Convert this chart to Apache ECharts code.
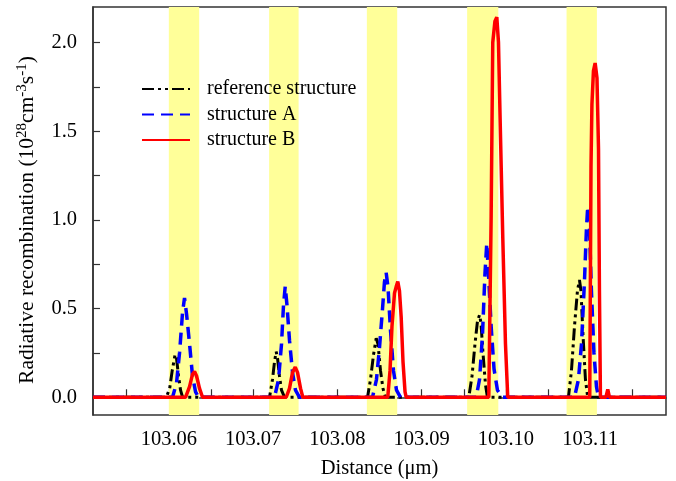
<!DOCTYPE html>
<html>
<head>
<meta charset="utf-8">
<script src="https://cdn.jsdelivr.net/npm/echarts@6/dist/echarts.min.js"></script>
<style>html,body{margin:0;padding:0;background:#fff}#c{width:676px;height:481px}</style>
</head>
<body>
<div id="c"></div>
<script>
// ---- data ----
const xLabels = [103.06, 103.07, 103.08, 103.09, 103.10, 103.11];
const xTicks = [103.055, 103.06, 103.065, 103.07, 103.075, 103.08, 103.085, 103.09, 103.095, 103.10, 103.105, 103.11, 103.115];
const yLabels = [0, 0.5, 1.0, 1.5, 2.0];
const yTicks = [0, 0.25, 0.5, 0.75, 1.0, 1.25, 1.5, 1.75, 2.0];
const wellBands = [[103.0600, 103.0636], [103.0719, 103.0754], [103.0835, 103.0871], [103.0954, 103.0991], [103.1072, 103.1108]];

const refStructure = [
  [103.051, 0],
  [103.0597, 0], [103.0601, 0.05], [103.0604, 0.15], [103.06074, 0.24], [103.06091, 0.22], [103.06115, 0.12], [103.06139, 0.04], [103.06163, 0],
  [103.07195, 0], [103.07230, 0.1], [103.07254, 0.2], [103.07274, 0.257], [103.07290, 0.22], [103.07313, 0.12], [103.07337, 0.04], [103.07373, 0],
  [103.08358, 0], [103.08393, 0.1], [103.08429, 0.24], [103.08461, 0.333], [103.08482, 0.3], [103.08512, 0.15], [103.08541, 0.05], [103.08571, 0],
  [103.09560, 0], [103.09598, 0.12], [103.09633, 0.3], [103.09663, 0.43], [103.09687, 0.464], [103.09704, 0.42], [103.09728, 0.25], [103.09758, 0.07], [103.09781, 0],
  [103.10742, 0], [103.10778, 0.15], [103.10814, 0.4], [103.10849, 0.6], [103.10873, 0.661], [103.10891, 0.6], [103.10915, 0.35], [103.10944, 0.1], [103.10971, 0],
  [103.119, 0]
];
const structureA = [
  [103.051, 0],
  [103.06044, 0], [103.06091, 0.08], [103.06127, 0.25], [103.06163, 0.48], [103.06186, 0.56], [103.06210, 0.47], [103.06246, 0.3], [103.06281, 0.12], [103.06317, 0.03], [103.06352, 0],
  [103.07254, 0], [103.07302, 0.1], [103.07337, 0.3], [103.07361, 0.52], [103.07381, 0.624], [103.07402, 0.52], [103.07432, 0.32], [103.07468, 0.14], [103.07503, 0.04], [103.07551, 0],
  [103.08417, 0], [103.08464, 0.1], [103.08500, 0.28], [103.08536, 0.5], [103.08559, 0.65], [103.08579, 0.703], [103.08601, 0.62], [103.08630, 0.38], [103.08666, 0.15], [103.08702, 0.04], [103.08749, 0],
  [103.09647, 0], [103.09687, 0.1], [103.09722, 0.35], [103.09752, 0.7], [103.09773, 0.868], [103.09793, 0.7], [103.09825, 0.4], [103.09859, 0.16], [103.09900, 0.04], [103.09959, 0],
  [103.10814, 0], [103.10861, 0.1], [103.10897, 0.3], [103.10932, 0.65], [103.10956, 0.95], [103.10971, 1.075], [103.10992, 0.95], [103.11015, 0.6], [103.11045, 0.25], [103.11075, 0.06], [103.11099, 0],
  [103.119, 0]
];
const structureB = [
  [103.051, 0],
  [103.06198, 0], [103.06246, 0.06], [103.06281, 0.13], [103.06305, 0.145], [103.06329, 0.12], [103.06364, 0.05], [103.06400, 0],
  [103.07393, 0], [103.07432, 0.05], [103.07468, 0.14], [103.07500, 0.17], [103.07527, 0.14], [103.07563, 0.05], [103.07590, 0],
  [103.08598, 0], [103.08625, 0.15], [103.08648, 0.4], [103.08678, 0.587], [103.08702, 0.63], [103.08717, 0.652], [103.08737, 0.6], [103.08757, 0.455], [103.08779, 0.2], [103.08803, 0.03], [103.08817, 0],
  [103.09797, 0], [103.09825, 1.02], [103.09844, 2.0], [103.09870, 2.12], [103.09892, 2.143], [103.09912, 2.0], [103.09930, 1.6], [103.09963, 0.9], [103.09995, 0.3], [103.10022, 0],
  [103.10995, 0], [103.11010, 1.3], [103.11021, 1.65], [103.11039, 1.84], [103.11059, 1.884], [103.11081, 1.8], [103.11099, 1.4], [103.11110, 0.6], [103.11122, 0],
  [103.11187, 0], [103.11209, 0.045], [103.11229, 0],
  [103.119, 0]
];

// ---- chart ----
const FONT = "'Liberation Serif', 'Times New Roman', serif";
const chart = echarts.init(document.getElementById('c'), null, { renderer: 'canvas' });
chart.setOption({
  animation: false,
  backgroundColor: '#fff',
  grid: { left: 93, right: 10, top: 7, bottom: 66, show: true, borderColor: '#333', borderWidth: 1.5, outerBoundsMode: 'none' },
  legend: {
    orient: 'vertical', left: 141, top: 79, padding: 0,
    itemWidth: 48, itemHeight: 14, itemGap: 5.5,
    itemStyle: { opacity: 0 },
    textStyle: { fontFamily: FONT, fontSize: 20, color: '#000', lineHeight: 20, padding: [0, 0, 0, 12] },
    data: ['reference structure', 'structure A', 'structure B']
  },
  xAxis: {
    type: 'value', min: 103.051, max: 103.119,
    name: 'Distance (\u03bcm)', nameLocation: 'middle', nameGap: 43,
    nameTextStyle: { fontFamily: FONT, fontSize: 20.5, color: '#000' },
    axisLine: { show: true, lineStyle: { color: '#333', width: 1.5 } },
    axisTick: { show: true, inside: true, length: 8, customValues: xTicks, lineStyle: { color: '#333', width: 1.2 } },
    axisLabel: { customValues: xLabels, margin: 14, fontFamily: FONT, fontSize: 20.5, color: '#000', formatter: v => v.toFixed(2) },
    splitLine: { show: false }
  },
  yAxis: {
    type: 'value', min: -0.1, max: 2.2,
    name: 'Radiative recombination (10{sup|28}cm{sup|-3}s{sup|-1})',
    nameLocation: 'middle', nameGap: 53, nameRotate: 90,
    nameTextStyle: { fontFamily: FONT, fontSize: 21.5, color: '#000', lineHeight: 25, padding: [0, 18, 0, 0],
      rich: { sup: { fontFamily: FONT, fontSize: 15, lineHeight: 15, verticalAlign: 'top', color: '#000' } } },
    axisLine: { show: true, lineStyle: { color: '#333', width: 1.5 } },
    axisTick: { show: true, inside: true, length: 7, customValues: yTicks, lineStyle: { color: '#333', width: 1.2 } },
    axisLabel: { customValues: yLabels, margin: 16, fontFamily: FONT, fontSize: 20.5, color: '#000', formatter: v => v.toFixed(1) },
    splitLine: { show: false }
  },
  series: [
    {
      type: 'line', name: 'bands', data: [], z: 1, silent: true,
      markArea: { silent: true, itemStyle: { color: '#ffff99', opacity: 1 },
        data: wellBands.map(b => [{ xAxis: b[0] }, { xAxis: b[1] }]) }
    },
    {
      type: 'line', name: 'reference structure', data: refStructure, symbol: 'none', z: 3,
      lineStyle: { color: '#000', width: 3, type: [12, 4, 3, 4, 3, 4] }, itemStyle: { color: '#000' }
    },
    {
      type: 'line', name: 'structure A', data: structureA, symbol: 'none', z: 4,
      lineStyle: { color: '#0000ff', width: 3.5, type: [12, 7] }, itemStyle: { color: '#0000ff' }
    },
    {
      type: 'line', name: 'structure B', data: structureB, symbol: 'none', z: 5,
      lineStyle: { color: '#ff0000', width: 3.5, type: 'solid' }, itemStyle: { color: '#ff0000' }
    }
  ]
});
</script>
</body>
</html>
